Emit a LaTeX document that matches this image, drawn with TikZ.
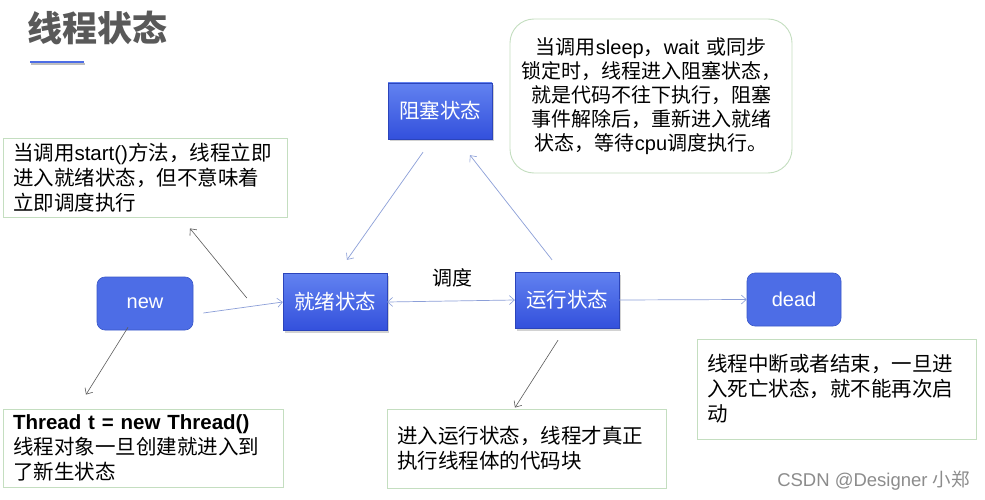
\documentclass[tikz,border=0pt]{standalone}
\usepackage{fontspec}
\setmainfont{Noto Sans CJK SC}
\newfontfamily\lat{Liberation Sans}
\usetikzlibrary{arrows.meta,shadows}
\definecolor{nodeblue}{HTML}{4D6DE6}
\definecolor{nodeedge}{HTML}{3A58C8}
\definecolor{gtop}{HTML}{6282F0}
\definecolor{gbot}{HTML}{3350DC}
\definecolor{notegreen}{HTML}{C4DEC0}
\definecolor{linkblue}{HTML}{8C9FD8}
\definecolor{linkgray}{HTML}{5A5A5A}
\definecolor{titlegray}{HTML}{595959}
\tikzset{
  stnode/.style={rectangle, text=white, font=\fontsize{20.5}{24}\selectfont,
    top color=gtop, bottom color=gbot, draw=gbot!85!black, line width=0.4pt,
    minimum width=104pt, minimum height=56pt, inner sep=0pt,
    drop shadow={opacity=0.35, shadow xshift=2pt, shadow yshift=-2.5pt}},
  rnode/.style={rectangle, rounded corners=8pt, fill=nodeblue, draw=nodeedge, line width=0.6pt,
    text=white, font=\lat\fontsize{20}{24}\selectfont, inner sep=0pt,
    minimum width=96pt, minimum height=53pt},
  note/.style={rectangle, draw=notegreen, line width=0.9pt, align=left, inner xsep=10pt,
    inner ysep=0pt, font=\fontsize{20.5}{25}\selectfont, text=black},
  bluelink/.style={draw=linkblue, line width=0.7pt},
  graylink/.style={draw=linkgray, line width=0.6pt},
  tip/.style={-{Straight Barb[length=5pt,width=9pt,line width=0.6pt]}},
  tips/.style={{Straight Barb[length=5pt,width=9pt,line width=0.6pt]}-{Straight Barb[length=5pt,width=9pt,line width=0.6pt]}}
}
\begin{document}
\begin{tikzpicture}[x=1pt,y=-1pt]
\useasboundingbox (0,0) rectangle (985,500);
\fill[white] (0,0) rectangle (985,500);

% title
\node[anchor=west, inner sep=0pt, text=titlegray, font=\fontsize{35}{40}\selectfont\bfseries] (title) at (27.5,28) {线程状态};
\coordinate (ulA) at (30,62);
\coordinate (ulB) at (84,62);
\draw[black!25, line width=2pt] ([shift={(1,2.5)}]ulA) -- ([shift={(1,2.5)}]ulB);
\draw[nodeblue, line width=1.8pt] (ulA) -- (ulB);

% state nodes
\node[rnode] (new) at (145,303.5) {new};
\node[stnode, minimum height=57pt] (ready) at (335,302) {就绪状态};
\node[stnode] (block) at (440,111) {阻塞状态};
\node[stnode] (run) at (567,300) {运行状态};
\node[rnode, minimum width=94pt] (dead) at (794,299.5) {dead};

% notes
\node[note, text width=264pt, minimum height=79pt] (nstart) at (145,177.5)
  {当调用{\lat start()}方法，线程立即\\进入就绪状态，但不意味着\\立即调度执行};
\node[note, rounded corners=24pt, align=center, text width=262pt, minimum height=154pt, font=\fontsize{20}{24}\selectfont] (nblock) at (651,96)
  {当调用{\lat sleep}，{\lat wait} 或同步\\锁定时，线程进入阻塞状态，\\就是代码不往下执行，阻塞\\事件解除后，重新进入就绪\\状态，等待{\lat cpu}调度执行。};
\node[note, text width=259pt, minimum height=100pt] (ndead) at (836.5,389)
  {线程中断或者结束，一旦进\\入死亡状态，就不能再次启\\动};
\node[note, text width=260pt, minimum height=78pt] (nnew) at (143,448)
  {{\lat\bfseries Thread t = new Thread()}\\线程对象一旦创建就进入到\\了新生状态};
\node[note, text width=259pt, minimum height=79pt] (nrun) at (526.5,448.5)
  {进入运行状态，线程才真正\\执行线程体的代码块};

% labels
\node[font=\fontsize{20}{24}\selectfont, inner sep=0pt] (sched) at (452,278) {调度};
\node[anchor=east, inner sep=0pt, text=black!45, font=\lat\fontsize{18.5}{20}\selectfont] (wm) at (970,481) {CSDN @Designer {\rmfamily 小郑}};

% connectors
\draw[bluelink, tip] ([shift={(10,9.5)}]new.east) -- (ready.west);
\draw[bluelink, tips] (ready.east) -- (run.west);
\draw[bluelink, tip] ([shift={(-17,13)}]block.south) -- ([shift={(12,-13.5)}]ready.north);
\draw[bluelink, tip] ([shift={(-15,-12)}]run.north) -- ([shift={(30,16)}]block.south);
\draw[bluelink, tip] (run.east) -- (dead.west);
\draw[graylink, tip] ([shift={(-36,-4)}]ready.west) -- ([shift={(45,11)}]nstart.south);
\draw[graylink, tip] ([shift={(-17,-3)}]new.south) -- ([shift={(-57,-14)}]nnew.north);
\draw[graylink, tip] ([shift={(-9,12)}]run.south) -- ([shift={(-11.5,-1)}]nrun.north);
\end{tikzpicture}
\end{document}
